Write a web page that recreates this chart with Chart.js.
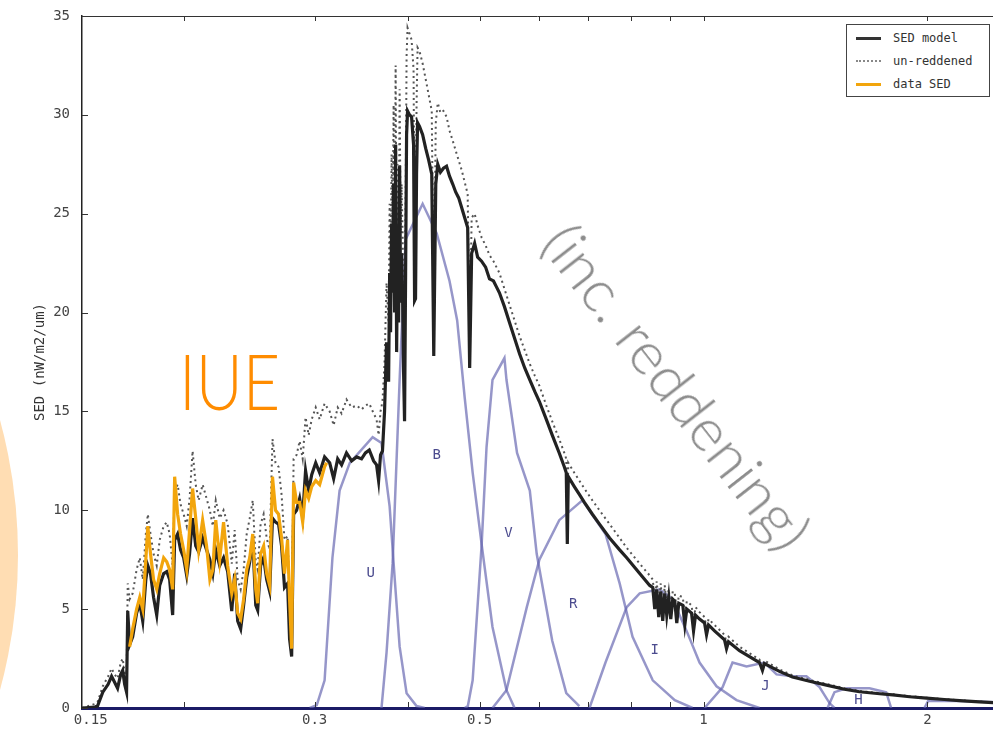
<!DOCTYPE html>
<html><head><meta charset="utf-8">
<script src="https://cdn.jsdelivr.net/npm/chart.js@4.4.1/dist/chart.umd.min.js"></script>
<style>
html,body{margin:0;padding:0;background:#fff;overflow:hidden}
#wrap{position:relative;width:993px;height:732px;overflow:hidden;background:#fff}
#peach{position:absolute;left:-1012px;top:40px;width:1030px;height:1030px;border-radius:50%;background:#FFDDB3}
#c{position:absolute;left:0;top:0}
#iue{position:absolute;left:179px;top:343px;font-family:Lato,"Open Sans",sans-serif;font-weight:300;font-size:76px;line-height:76px;color:#FF8C00;transform:scaleX(0.85);transform-origin:0 0;white-space:nowrap}
#redd{position:absolute;left:678px;top:386px;font-family:Lato,"Open Sans",sans-serif;font-weight:300;font-size:60px;line-height:60px;color:#8c8c8c;white-space:nowrap;transform:translate(-50%,-50%) rotate(52deg)}
#legend{position:absolute;left:846px;top:24px;width:144px;height:73px;border:1px solid #444;background:#fff;box-sizing:border-box;font-family:"DejaVu Sans Mono",monospace;font-size:12px;color:#333}
#legend .row{position:absolute;left:0;height:14px;line-height:14px}
#legend .sw{position:absolute;left:9px;top:6px;width:25px}
#legend .tx{position:absolute;left:46px;top:0;white-space:nowrap}
</style></head>
<body>
<div id="wrap">
  <div id="peach"></div>
  <canvas id="c" width="993" height="732"></canvas>
  <div id="iue">IUE</div>
  <div id="redd">(inc. reddening)</div>
  <div id="legend">
    <div class="row" style="top:6px"><span class="sw" style="border-top:3px solid #333"></span><span class="tx">SED model</span></div>
    <div class="row" style="top:29px"><span class="sw" style="border-top:2px dotted #888"></span><span class="tx">un-reddened</span></div>
    <div class="row" style="top:52px"><span class="sw" style="border-top:3px solid #F2A50C"></span><span class="tx">data SED</span></div>
  </div>
</div>
<script>
// ---------- data (wavelength in um, SED in nW/m2/um) ----------
const modelWave = [
0.146,0.1519,0.1532,0.1557,0.1583,0.160,0.1615,0.163,0.1646,0.1656,
0.1666,0.1676,0.1682,0.1692,0.1708,0.1729,0.1746,0.1762,0.1779,0.179,
0.1805,0.1822,0.184,0.1857,0.188,0.1898,0.1915,0.1933,0.1945,0.1963,
0.1981,0.200,0.2019,0.2037,0.2056,0.2076,0.2095,0.2121,0.2147,0.2169,
0.2189,0.2209,0.2236,0.2263,0.2292,0.2321,0.2342,0.2364,0.2386,0.2408,
0.2431,0.2454,0.2477,0.250,0.2515,0.2538,0.2562,0.2586,0.261,0.2633,
0.2658,0.2683,0.2708,0.2733,0.2759,0.2776,0.2794,0.2811,0.2837,0.2864,
0.2891,0.2917,0.2945,0.2973,0.301,0.3047,0.3094,0.3143,0.3182,0.3222,
0.3261,0.3311,0.3364,0.3417,0.3469,0.3511,0.3553,0.3601,0.3634,0.3657,
0.3679,0.3701,0.3725,0.3748,0.3772,0.3784,0.3795,0.3807,0.3819,0.3831,
0.3843,0.3855,0.3867,0.3879,0.3891,0.3903,0.3915,0.3927,0.3939,0.3951,
0.3963,0.3976,0.3988,0.400,0.4025,0.405,0.4075,0.4088,0.41,0.4113,
0.4126,0.4152,0.4191,0.4231,0.4271,0.4311,0.4338,0.4365,0.4392,0.4429,
0.447,0.4513,0.4555,0.46,0.4642,0.4686,0.473,0.4774,0.4818,0.4848,
0.4878,0.4923,0.4969,0.503,0.5093,0.5155,0.5219,0.5267,0.5316,0.5399,
0.5484,0.5571,0.5659,0.5749,0.584,0.5932,0.6016,0.6146,0.626,0.6397,
0.6498,0.6538,0.6559,0.6579,0.6703,0.6808,0.6915,0.7089,0.7246,0.7476,
0.7713,0.7883,0.8207,0.8466,0.8545,0.8598,0.8651,0.8705,0.8759,0.8813,
0.8868,0.8923,0.8979,0.9035,0.9091,0.9148,0.9205,0.9262,0.9378,0.9437,
0.9495,0.9635,0.9695,0.9755,0.9877,1.0031,1.0093,1.0156,1.0346,1.0671,
1.0737,1.0804,1.1178,1.1892,1.2,1.2074,1.2649,1.317,1.3884,1.4634,
1.5468,1.6207,1.7252,1.7966,1.893,1.9948,2.1079,2.2086,2.3491,2.4587];

const modelFlux = [
0,0.05,0.1,0.8,1.2,1.6,1.3,1.0,1.7,1.9,
1.2,0.8,4.9,3.2,3.6,4.8,5.3,4.4,6.5,7.2,
6.8,5.6,4.7,6.2,6.8,6.9,6.5,4.7,8.5,8.8,
8.0,7.6,6.7,7.8,9.6,8.2,7.9,8.6,8.0,7.5,
6.8,8.0,7.2,7.6,6.9,4.9,6.8,4.4,4.0,5.2,
6.6,7.4,8.5,5.2,4.95,7.2,7.6,6.5,5.9,9.6,
9.4,9.3,8.2,6.1,6.3,3.5,2.6,9.8,10.0,10.6,
9.7,12.0,11.0,11.8,12.4,11.9,12.7,12.4,11.6,12.6,
12.3,12.9,12.5,12.7,12.6,12.9,13.05,12.5,12.3,11.5,
12.8,13.0,15.0,18.5,16.5,22.0,19.0,24.5,21.0,26.5,
20.0,28.5,18.0,24.0,19.5,27.4,20.5,23.0,20.8,17.0,
14.5,22.0,29.0,30.2,30.0,29.9,28.5,20.6,20.7,27.0,
29.6,29.4,29.0,28.3,27.7,27.0,17.8,26.5,27.5,27.1,
27.3,27.4,26.9,26.5,26.1,25.8,25.3,24.8,24.3,17.2,
23.0,23.5,22.8,22.6,22.3,21.7,21.6,21.3,21.0,20.3,
19.5,18.7,17.9,17.2,16.6,16.0,15.5,14.6,13.8,12.9,
12.2,11.9,8.3,11.7,11.2,10.8,10.4,9.8,9.3,8.6,
8.0,7.6,6.8,6.2,6.1,5.0,6.0,4.6,5.9,4.4,
5.8,4.7,5.6,4.5,5.5,5.4,4.3,5.3,5.2,4.2,
5.0,4.8,3.9,4.7,4.5,4.3,3.7,4.2,3.9,3.45,
3.0,3.35,2.9,2.3,1.9,2.25,1.85,1.57,1.35,1.16,
0.95,0.82,0.72,0.66,0.57,0.5,0.43,0.37,0.31,0.27];

const unreddenedFlux = [
0,0.2,0.3,1.1,1.6,2.0,1.7,1.5,2.3,2.5,
1.8,1.4,6.3,5.5,5.8,7.0,7.6,6.5,8.8,9.8,
8.8,7.8,7.2,8.5,9.2,9.4,8.8,7.2,11.0,11.3,
10.3,9.8,9.2,10.6,13.0,11.3,10.5,11.3,10.6,10.0,
9.2,10.5,9.6,10.0,9.3,7.3,9.0,6.5,6.0,7.0,
8.8,9.6,10.5,7.4,7.0,9.3,9.8,8.6,8.0,13.6,
12.4,12.2,10.8,8.5,8.7,5.5,4.0,12.6,12.8,13.5,
12.6,14.7,13.8,14.6,15.2,14.6,15.4,15.0,14.3,15.2,
14.9,15.6,15.2,15.3,15.1,15.3,15.4,14.9,14.6,13.8,
15.0,15.5,17.5,21.5,19.5,25.5,22.0,28.0,24.5,30.5,
23.5,32.5,21.5,27.5,23.0,31.3,24.0,26.5,24.0,20.0,
17.0,25.5,33.0,34.4,34.1,33.8,32.3,23.5,23.6,30.5,
33.4,33.2,32.6,31.8,31.0,30.2,20.0,29.6,30.6,30.1,
30.2,29.9,29.2,28.7,28.2,27.7,27.2,26.6,26.0,18.6,
24.8,25.0,24.4,23.8,23.4,22.9,22.6,22.3,22.0,21.2,
20.4,19.6,18.8,18.1,17.4,16.8,16.3,15.3,14.5,13.6,
12.9,12.6,9.2,12.4,11.9,11.5,11.1,10.5,10.0,9.3,
8.6,8.1,7.3,6.7,6.5,5.5,6.4,5.1,6.3,4.9,
6.2,5.2,6.0,5.0,5.9,5.8,4.8,5.7,5.6,4.7,
5.4,5.2,4.4,5.1,4.85,4.6,4.0,4.5,4.2,3.7,
3.3,3.6,3.1,2.45,2.1,2.4,1.95,1.65,1.42,1.22,
1.0,0.86,0.75,0.69,0.6,0.52,0.45,0.39,0.33,0.28];

const iueWave = [
0.1692,0.1708,0.1729,0.1746,0.1762,0.1779,0.179,0.1805,0.1822,0.184,
0.1857,0.188,0.1898,0.1915,0.1933,0.1945,0.1963,0.1981,0.200,0.2019,
0.2037,0.2056,0.2076,0.2095,0.2121,0.2147,0.2169,0.2189,0.2209,0.2236,
0.2263,0.2292,0.2321,0.2342,0.2364,0.2386,0.2408,0.2431,0.2454,0.2477,
0.250,0.2515,0.2538,0.2562,0.2586,0.261,0.2633,0.2658,0.2683,0.2708,
0.2733,0.2759,0.2776,0.2794,0.2811,0.2837,0.2864,0.2891,0.2917,0.2945,
0.2973,0.301,0.3047,0.3094,0.3114];
const iueFlux = [
3.1,4.0,5.0,5.6,5.0,7.5,9.2,7.8,6.5,6.0,
6.8,7.6,7.4,7.0,6.0,11.7,9.8,8.8,8.0,7.0,
9.0,11.1,9.6,8.0,9.5,8.2,6.5,7.0,9.5,7.5,
9.4,7.2,5.8,6.5,4.8,4.5,5.5,7.0,7.6,8.8,
6.0,5.3,7.8,8.2,6.8,6.2,11.7,10.0,9.8,8.6,
6.8,8.5,5.5,3.0,11.4,10.4,10.4,9.4,11.0,10.6,
11.2,11.5,11.3,12.2,12.4];

// photometric band response curves (scaled)
const uWave = [0.2955,0.302,0.3094,0.317,0.3241,0.3345,0.359,0.369,0.3784,0.3843,0.3903,0.3988,0.4113,0.4218];
const uResp = [0,0.15,1.4,7.6,11.0,12.4,13.7,13.4,10.2,6.6,3.1,0.75,0.1,0];
const bWave = [0.369,0.3748,0.3819,0.3903,0.3976,0.4191,0.4378,0.4555,0.4664,0.4774,0.4893,0.503,0.5203,0.5433,0.5571];
const bResp = [0,2.8,7.3,16.6,23.7,25.5,24.0,21.6,19.6,15.7,11.9,8.3,4.1,0.9,0];
const vWave = [0.4774,0.4821,0.4893,0.503,0.5108,0.5203,0.5399,0.5433,0.5614,0.584,0.5966,0.626,0.6538,0.6808];
const vResp = [0,0.1,1.4,8.2,13.2,16.6,17.7,16.6,12.9,11.0,7.8,3.4,0.75,0.1];
const rWave = [0.5203,0.5433,0.5786,0.6016,0.6397,0.6872,0.7382,0.7713,0.8027,0.8545,0.9148,0.9665];
const rResp = [0,0.9,5.1,7.5,9.5,10.5,8.8,6.3,3.6,1.4,0.4,0];
const iWave = [0.7025,0.7382,0.7883,0.8207,0.8726,0.9085,0.9488,0.9877,1.041,1.1074,1.1892];
const iResp = [0,2.3,5.1,5.8,6.0,5.5,3.9,2.3,1.1,0.4,0];
const jWave = [1.0031,1.0606,1.0939,1.1424,1.2074,1.2536,1.317,1.375,1.4319,1.4769,1.4998];
const jResp = [0,1.05,2.3,2.1,2.3,1.7,1.6,1.6,1.06,0.25,0];
const hWave = [1.4678,1.4998,1.557,1.6713,1.7603,1.7875];
const hResp = [0,0.8,1.0,1.0,0.8,0];
const kWave = [1.9812,2.0041,2.2086,2.4227,2.497];
const kResp = [0,0.35,0.35,0.3,0.3];

const bandNames = ['U','B','V','R','I','J','H'];
const bandLabelWave = [0.3568,0.4378,0.5467,0.6682,0.8594,1.2111,1.616];
const bandLabelFlux = [6.8,12.8,8.85,5.26,2.93,1.11,0.4];

const xTickValues = [0.15,0.3,0.5,1,2];
const xTickLabels = ['0.15','0.3','0.5','1','2'];
const xMinorTicks = [0.2,0.3,0.4,0.5,0.6,0.7,0.8,0.9,1,2];
const yTickValues = [0,5,10,15,20,25,30,35];

// ---------- chart ----------
const pts = (w, f) => w.map((v, i) => ({x: v, y: f[i]}));
const bandColor = 'rgba(100,100,175,0.68)';
const bandSets = [[uWave,uResp],[bWave,bResp],[vWave,vResp],[rWave,rResp],[iWave,iResp],[jWave,jResp],[hWave,hResp],[kWave,kResp]]
  .map(([w, r]) => ({data: pts(w, r), borderColor: bandColor, borderWidth: 2.5, order: 4}));

const mono = '"DejaVu Sans Mono", monospace';

const decor = {
  id: 'decor',
  afterDatasetsDraw(chart) {
    const {ctx, chartArea: a, scales: {x, y}} = chart;
    ctx.save();
    ctx.strokeStyle = '#333';
    ctx.lineWidth = 1;
    ctx.beginPath();
    ctx.moveTo(a.left, a.top + 0.5); ctx.lineTo(a.right, a.top + 0.5);
    yTickValues.forEach(v => {
      const py = Math.round(y.getPixelForValue(v)) + 0.5;
      ctx.moveTo(a.left, py); ctx.lineTo(a.left + 6, py);
    });
    xMinorTicks.forEach(v => {
      const px = Math.round(x.getPixelForValue(v)) + 0.5;
      ctx.moveTo(px, a.bottom - 1); ctx.lineTo(px, a.bottom - 6);
      ctx.moveTo(px, a.top); ctx.lineTo(px, a.top + 5);
    });
    ctx.stroke();
    ctx.font = '14px ' + mono;
    ctx.fillStyle = '#4b4b8e';
    ctx.textAlign = 'center';
    ctx.textBaseline = 'middle';
    bandNames.forEach((n, i) => ctx.fillText(n, x.getPixelForValue(bandLabelWave[i]), y.getPixelForValue(bandLabelFlux[i])));
    ctx.translate(40, 362);
    ctx.rotate(-Math.PI / 2);
    ctx.fillStyle = '#333';
    ctx.font = '14px ' + mono;
    ctx.fillText('SED (nW/m2/um)', 0, 0);
    ctx.restore();
  }
};

new Chart(document.getElementById('c'), {
  type: 'scatter',
  data: {
    datasets: [
      ...bandSets,
      {label: 'un-reddened', data: pts(modelWave, unreddenedFlux), borderColor: '#555', borderWidth: 2, borderDash: [2, 3.5], order: 3},
      {label: 'SED model', data: pts(modelWave, modelFlux), borderColor: '#222', borderWidth: 3.2, order: 2},
      {label: 'data SED', data: pts(iueWave, iueFlux), borderColor: '#F2A50C', borderWidth: 3.2, order: 1}
    ]
  },
  options: {
    responsive: false,
    devicePixelRatio: 1,
    animation: false,
    showLine: true,
    elements: {point: {radius: 0, hoverRadius: 0}, line: {tension: 0, fill: false}},
    layout: {padding: {top: 16, right: 0, left: 0, bottom: 0}},
    plugins: {legend: {display: false}, tooltip: {enabled: false}},
    scales: {
      x: {
        type: 'logarithmic', min: 0.146, max: 2.45,
        grid: {display: false, drawTicks: false},
        border: {display: true, color: '#1b1b66', width: 3},
        ticks: {font: {family: mono, size: 14}, color: '#444', padding: 4, autoSkip: false, maxRotation: 0,
                callback: (v, i) => xTickLabels[i]},
        afterBuildTicks: s => { s.ticks = xTickValues.map(v => ({value: v})); },
        afterFit: s => { s.height = 24; s.paddingLeft = 0; s.paddingRight = 0; }
      },
      y: {
        min: 0, max: 35,
        grid: {display: false, drawTicks: false},
        border: {display: true, color: '#222', width: 1.5},
        ticks: {stepSize: 5, font: {family: mono, size: 14}, color: '#444', padding: 12},
        afterFit: s => { s.width = 82; s.paddingTop = 0; s.paddingBottom = 0; }
      }
    }
  },
  plugins: [decor]
});
</script>
</body></html>
